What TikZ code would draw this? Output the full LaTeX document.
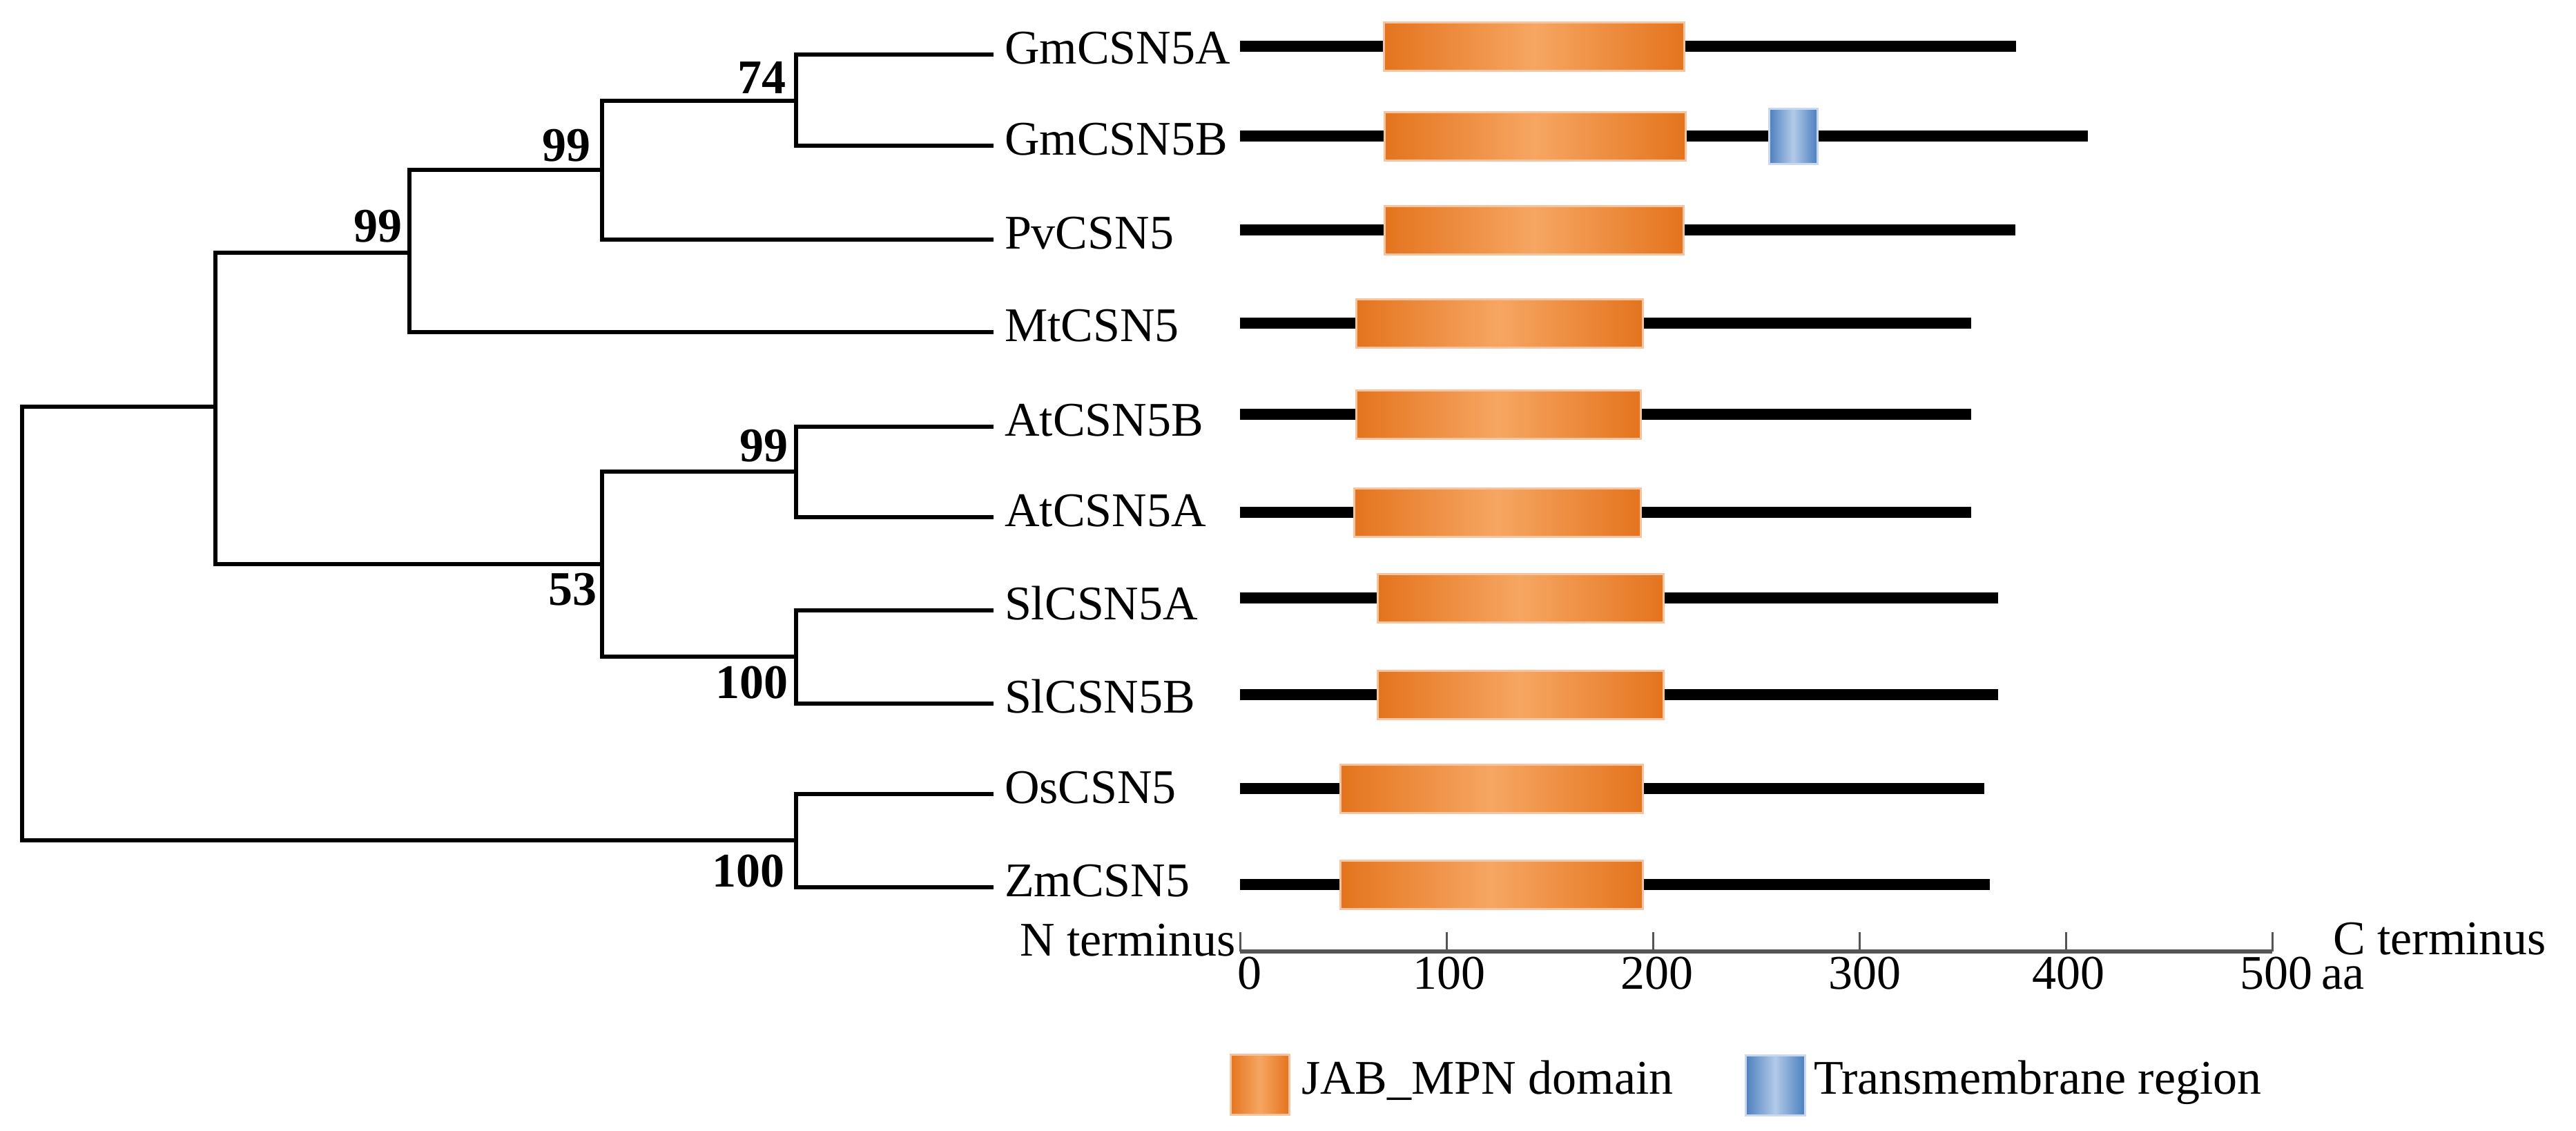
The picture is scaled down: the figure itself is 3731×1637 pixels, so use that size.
\documentclass[tikz,border=0pt]{standalone}
\usepackage{fontspec}
\setmainfont{Liberation Serif}
\usepackage{xcolor}
\usepackage{tikz}

\definecolor{jabdark}{RGB}{228,116,30}
\definecolor{jablight}{RGB}{246,166,98}
\definecolor{jabrim}{RGB}{246,196,160}
\definecolor{tmdark}{RGB}{76,127,190}
\definecolor{tmlight}{RGB}{178,202,232}
\definecolor{tmrim}{RGB}{200,216,238}
\definecolor{axisgray}{RGB}{85,85,85}

\tikzset{
  branch/.style={line width=0.6pt, line cap=rect},
  leaf/.style={anchor=west, inner xsep=1.7pt, inner ysep=0pt, text height=4.6pt, text depth=2pt, font=\rmfamily\fontsize{7}{8}\selectfont},
  bootup/.style={anchor=base east, inner sep=0pt, font=\rmfamily\fontsize{7}{8}\selectfont\bfseries},
  bootdown/.style={anchor=north east, inner sep=0pt, text height=4.6pt, font=\rmfamily\fontsize{7}{8}\selectfont\bfseries},
  protline/.style={line width=1.6pt},
  jab/.style={left color=jabdark, right color=jabdark, middle color=jablight, draw=jabrim, line width=0.3pt},
  tm/.style={left color=tmdark, right color=tmdark, middle color=tmlight, draw=tmrim, line width=0.3pt},
  axisline/.style={color=axisgray, line width=0.6pt},
  tickline/.style={color=axisgray, line width=0.3pt},
  scaletext/.style={inner sep=0pt, font=\rmfamily\fontsize{7}{8}\selectfont},
}

\begin{document}
\begin{tikzpicture}[x=0.1pt,y=0.1pt,yscale=-1,xscale=1]
\useasboundingbox (0,0) rectangle (3731,1637);

% internal nodes of the tree
\coordinate (root) at (32,903);
\coordinate (n1) at (312,589);
\coordinate (nA) at (593,366);
\coordinate (nB) at (872,246);
\coordinate (n74) at (1153,146);
\coordinate (n53) at (872,817);
\coordinate (nAt) at (1153,683);
\coordinate (nSl) at (1153,951);
\coordinate (nOZ) at (1153,1217);

% Text Node
\node[leaf] (gm5a) at (1436,79) {GmCSN5A};
% Text Node
\node[leaf] (gm5b) at (1436,211) {GmCSN5B};
% Text Node
\node[leaf] (pv) at (1436,347) {PvCSN5};
% Text Node
\node[leaf] (mt) at (1436,481) {MtCSN5};
% Text Node
\node[leaf] (at5b) at (1436,618) {AtCSN5B};
% Text Node
\node[leaf] (at5a) at (1436,749) {AtCSN5A};
% Text Node
\node[leaf] (sl5a) at (1436,884) {SlCSN5A};
% Text Node
\node[leaf] (sl5b) at (1436,1019) {SlCSN5B};
% Text Node
\node[leaf] (os) at (1436,1150) {OsCSN5};
% Text Node
\node[leaf] (zm) at (1436,1285) {ZmCSN5};

%Branches
\draw[branch] (root) |- (n1);
\draw[branch] (root) |- (nOZ);
\draw[branch] (n1) |- (nA);
\draw[branch] (n1) |- (n53);
\draw[branch] (nA) |- (nB);
\draw[branch] (nA) |- (mt);
\draw[branch] (nB) |- (n74);
\draw[branch] (nB) |- (pv);
\draw[branch] (n74) |- (gm5a);
\draw[branch] (n74) |- (gm5b);
\draw[branch] (n53) |- (nAt);
\draw[branch] (n53) |- (nSl);
\draw[branch] (nAt) |- (at5b);
\draw[branch] (nAt) |- (at5a);
\draw[branch] (nSl) |- (sl5a);
\draw[branch] (nSl) |- (sl5b);
\draw[branch] (nOZ) |- (os);
\draw[branch] (nOZ) |- (zm);

% bootstrap values
\node[bootup] (b74) at ([shift={(-13,-11)}]n74) {74};
\node[bootup] (bB) at ([shift={(-15,-13)}]nB) {99};
\node[bootup] (bA) at ([shift={(-9,-16)}]nA) {99};
\node[bootup] (bAt) at ([shift={(-10,-15)}]nAt) {99};
\node[bootdown] (b53) at ([shift={(-6,11)}]n53) {53};
\node[bootdown] (bSl) at ([shift={(-10,12)}]nSl) {100};
\node[bootdown] (bOZ) at ([shift={(-15,19)}]nOZ) {100};

%Proteins
\draw[protline] (1796,67) -- (2920,67);
\shade[jab] (2004,32) rectangle (2439,102);
\draw[protline] (1796,197) -- (3024,197);
\shade[jab] (2005,162) rectangle (2441,232);
\shade[tm] (2562,157) rectangle (2632,237);
\draw[protline] (1796,333) -- (2919,333);
\shade[jab] (2005,298) rectangle (2438,368);
\draw[protline] (1796,468) -- (2855,468);
\shade[jab] (1964,433) rectangle (2379,503);
\draw[protline] (1796,600) -- (2855,600);
\shade[jab] (1964,565) rectangle (2376,635);
\draw[protline] (1796,742) -- (2855,742);
\shade[jab] (1961,707) rectangle (2376,777);
\draw[protline] (1796,866) -- (2894,866);
\shade[jab] (1995,831) rectangle (2409,901);
\draw[protline] (1796,1006) -- (2894,1006);
\shade[jab] (1995,971) rectangle (2409,1041);
\draw[protline] (1796,1142) -- (2874,1142);
\shade[jab] (1941,1107) rectangle (2379,1177);
\draw[protline] (1796,1281) -- (2882,1281);
\shade[jab] (1941,1246) rectangle (2379,1316);

%Scale axis
\draw[axisline] (1796,1378) -- (3291,1378);
\draw[tickline] (1796,1378) -- (1796,1350);
\draw[tickline] (2095,1378) -- (2095,1350);
\draw[tickline] (2394,1378) -- (2394,1350);
\draw[tickline] (2693,1378) -- (2693,1350);
\draw[tickline] (2992,1378) -- (2992,1350);
\draw[tickline] (3291,1378) -- (3291,1350);

% Text Node
\node[scaletext, anchor=base] (s0) at (1810,1432) {0};
% Text Node
\node[scaletext, anchor=base] (s100) at (2099,1432) {100};
% Text Node
\node[scaletext, anchor=base] (s200) at (2400,1432) {200};
% Text Node
\node[scaletext, anchor=base] (s300) at (2701,1432) {300};
% Text Node
\node[scaletext, anchor=base] (s400) at (2996,1432) {400};
% Text Node
\node[scaletext, anchor=base] (s500) at (3297,1432) {500};
% Text Node
\node[scaletext, anchor=base west] (saa) at (3360,1432) {aa};
% Text Node
\node[scaletext, anchor=base east] (nterm) at (1792,1384) {N terminus};
% Text Node
\node[scaletext, anchor=base west] (cterm) at (3377,1382) {C terminus};

%Legend
\shade[jab] (1782,1527) rectangle (1867,1614);
\node[scaletext, anchor=base west] (ljab) at (1883,1584) {JAB\_MPN domain};
\shade[tm] (2528,1528) rectangle (2614,1615);
\node[scaletext, anchor=base west] (ltm) at (2625,1584) {Transmembrane region};
\end{tikzpicture}
\end{document}
